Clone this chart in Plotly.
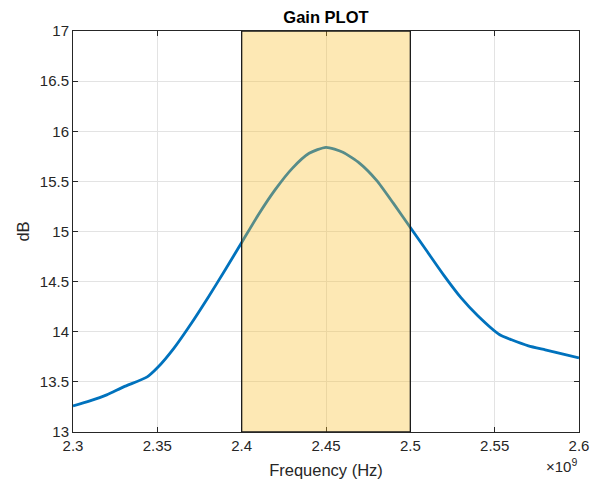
import plotly.graph_objects as go

freq_ghz = [2.30, 2.31, 2.32, 2.33, 2.344, 2.35, 2.36, 2.37, 2.38, 2.39,
            2.40, 2.41, 2.42, 2.43, 2.44, 2.45, 2.46, 2.47, 2.48, 2.49,
            2.50, 2.51, 2.52, 2.53, 2.54, 2.553, 2.56, 2.57, 2.58, 2.59, 2.60]
gain_db = [13.26, 13.31, 13.37, 13.45, 13.55, 13.64, 13.84, 14.08, 14.34, 14.61,
           14.89, 15.17, 15.42, 15.63, 15.78, 15.84, 15.79, 15.68, 15.51, 15.28,
           15.04, 14.80, 14.56, 14.34, 14.16, 13.97, 13.92, 13.86, 13.82, 13.78, 13.74]
band_ghz = [2.4, 2.5]
x_ticks_ghz = [2.3, 2.35, 2.4, 2.45, 2.5, 2.55, 2.6]
x_tick_labels = ["2.3", "2.35", "2.4", "2.45", "2.5", "2.55", "2.6"]
y_ticks = [13, 13.5, 14, 14.5, 15, 15.5, 16, 16.5, 17]
y_tick_labels = ["13", "13.5", "14", "14.5", "15", "15.5", "16", "16.5", "17"]

freq_hz = [f * 1e9 for f in freq_ghz]

FONT = "Liberation Sans, Arial, Helvetica, sans-serif"
AX = "#262626"
GRID = "#e3e3e3"

fig = go.Figure()
fig.add_trace(go.Scatter(x=freq_hz, y=gain_db, mode="lines",
                         line=dict(color="#0072BD", width=2.8, shape="spline", smoothing=0.6),
                         showlegend=False))

# highlighted band (semi-transparent, drawn above the line like MATLAB patch)
fig.add_shape(type="rect", xref="x", yref="y",
              x0=band_ghz[0] * 1e9, x1=band_ghz[1] * 1e9, y0=y_ticks[0], y1=y_ticks[-1],
              fillcolor="rgba(250,190,40,0.35)", line=dict(width=0), layer="above")
fig.add_shape(type="rect", xref="x", yref="y",
              x0=band_ghz[0] * 1e9, x1=band_ghz[1] * 1e9, y0=y_ticks[0], y1=y_ticks[-1],
              fillcolor="rgba(0,0,0,0)", line=dict(color="#1a1a1a", width=1.3), layer="above")

axis_common = dict(showline=True, mirror="ticks", linecolor=AX, linewidth=1,
                   ticks="inside", ticklen=5, tickcolor=AX, showgrid=True,
                   gridcolor=GRID, gridwidth=1, zeroline=False, automargin=False,
                   tickfont=dict(family=FONT, size=15, color=AX))

fig.update_xaxes(range=[x_ticks_ghz[0] * 1e9, x_ticks_ghz[-1] * 1e9],
                 tickvals=[t * 1e9 for t in x_ticks_ghz], ticktext=x_tick_labels,
                 title=dict(text="Frequency (Hz)", font=dict(family=FONT, size=16.5, color=AX), standoff=11),
                 **axis_common)
fig.update_yaxes(range=[y_ticks[0], y_ticks[-1]], tickvals=y_ticks, ticktext=y_tick_labels,
                 title=dict(text="dB", font=dict(family=FONT, size=16.5, color=AX), standoff=6),
                 **axis_common)

fig.add_annotation(text="×10<sup>9</sup>", xref="paper", yref="paper", x=1.0, y=-0.055,
                   xanchor="right", yanchor="top", showarrow=False,
                   font=dict(family=FONT, size=15, color=AX))

fig.update_layout(
    width=598, height=487,
    margin=dict(l=73, r=19, t=31, b=55),
    paper_bgcolor="white", plot_bgcolor="white",
    title=dict(text="<b>Gain PLOT</b>", x=0.5, xref="paper", xanchor="center",
               y=1, yref="paper", yanchor="bottom", pad=dict(b=8), automargin=False,
               font=dict(family=FONT, size=16.5, color="#000000")),
)

fig.write_html("out.html", config={"displayModeBar": False},
               post_script="document.body.style.margin='0';document.body.style.overflow='hidden';")
